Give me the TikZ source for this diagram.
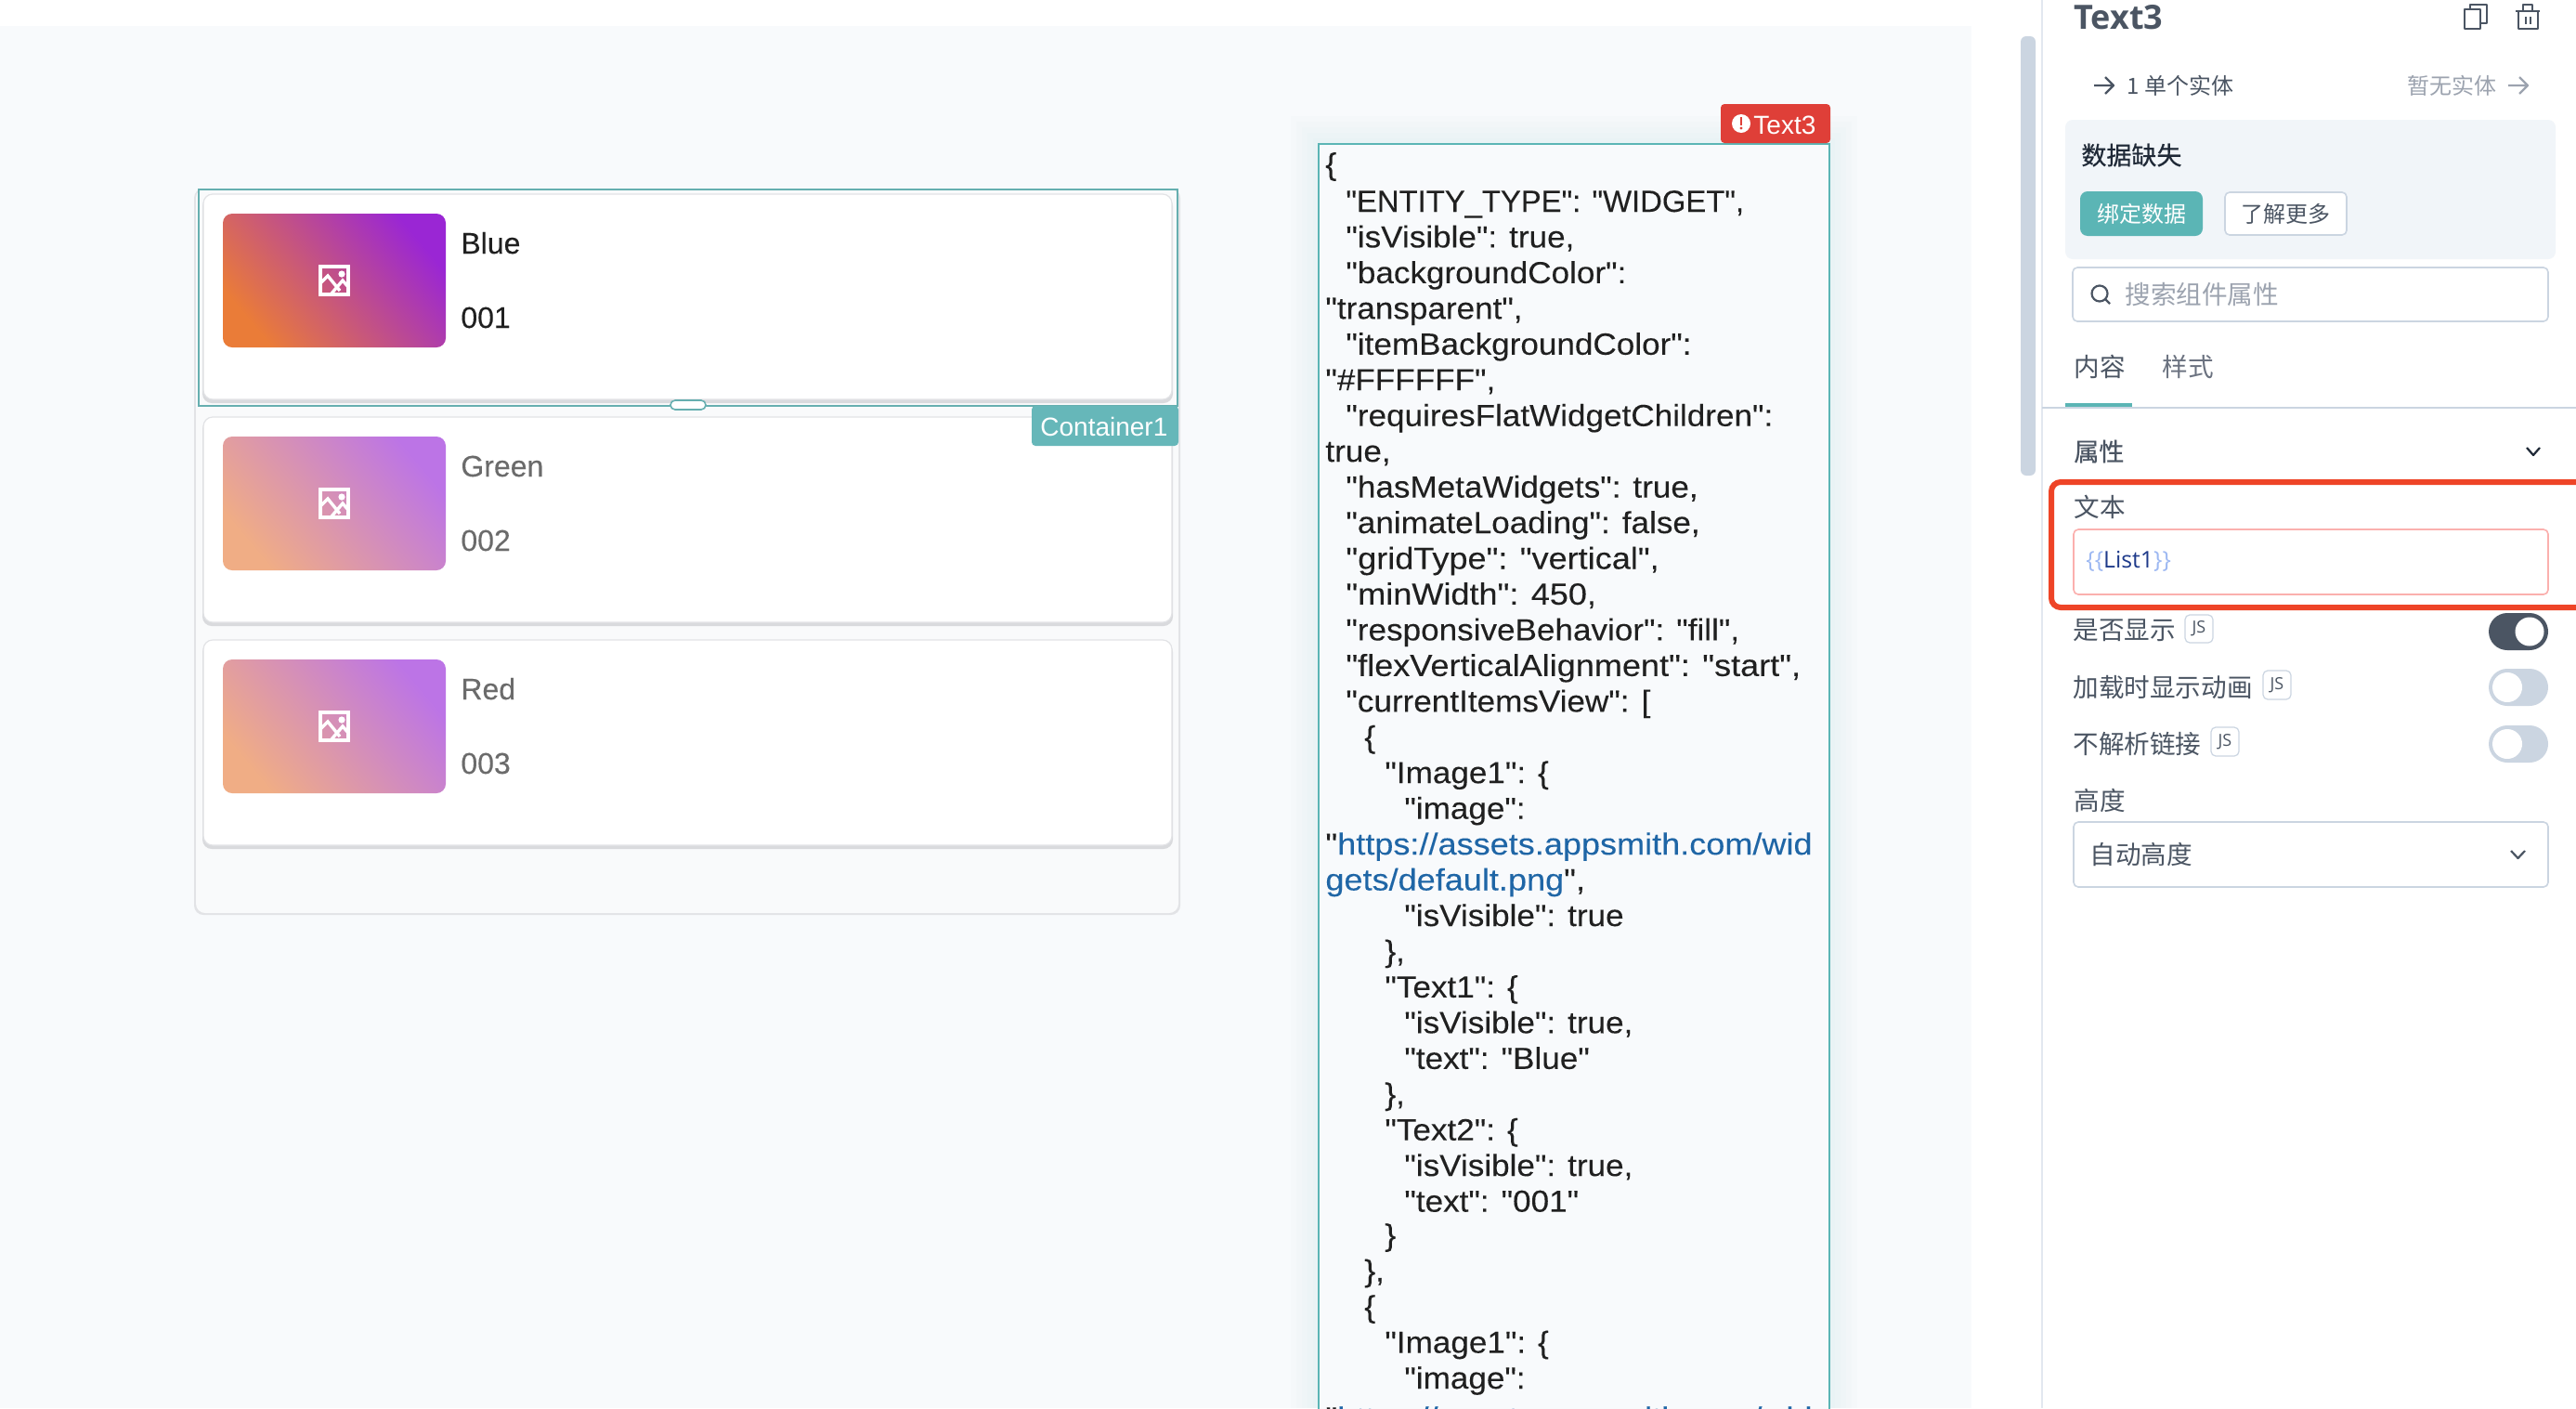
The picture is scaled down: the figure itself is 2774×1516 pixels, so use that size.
\documentclass[tikz,border=0pt]{standalone}
\usepackage{fontspec}
\setmainfont{Liberation Sans}
\newfontfamily\jsonfont[FakeStretch=1.07,FakeBold=.1]{Liberation Sans}
\newfontfamily\jsonplain[FakeBold=.1]{Liberation Sans}
\newfontfamily\jsonwide[FakeStretch=1.1,FakeBold=.1]{Liberation Sans}
\newfontfamily\panelfont{Open Sans}
\newfontfamily\cjkfont{Noto Sans CJK SC}
\definecolor{canvasbg}{HTML}{F8FAFC}
\definecolor{listbg}{HTML}{F9FAFB}
\definecolor{edgegray}{HTML}{E2E3E6}
\definecolor{cardshade}{HTML}{D9DADD}
\definecolor{selteal}{HTML}{66AFB0}
\definecolor{tagteal}{HTML}{66B7B9}
\definecolor{btnteal}{HTML}{5BB5B5}
\definecolor{errred}{HTML}{DF3F38}
\definecolor{markred}{HTML}{EE4427}
\definecolor{inkdark}{HTML}{202020}
\definecolor{inkdim}{HTML}{6B6B6B}
\definecolor{linkblue}{HTML}{1F66A6}
\definecolor{slate}{HTML}{4B5563}
\definecolor{slatedark}{HTML}{1F2937}
\definecolor{slatemid}{HTML}{6B7280}
\definecolor{slatelight}{HTML}{9CA3AF}
\definecolor{rulegray}{HTML}{CBD5E1}
\definecolor{dividergray}{HTML}{E2E8F0}
\definecolor{notebg}{HTML}{F1F5F9}
\definecolor{errpink}{HTML}{FBB0AE}
\definecolor{bracelight}{HTML}{9DB8F2}
\definecolor{listnavy}{HTML}{1E3A8A}
\definecolor{gradlow}{HTML}{EA7C38}
\definecolor{gradmid}{HTML}{D4507E}
\definecolor{gradtop}{HTML}{9A26D4}
\definecolor{fadelow}{HTML}{F0AD85}
\definecolor{fademid}{HTML}{E690A8}
\definecolor{fadetop}{HTML}{BC74E6}
\tikzset{
  cardbox/.style={fill=white,draw=edgegray,line width=.6pt,rounded corners=5pt},
  cardshadow/.style={fill=cardshade,rounded corners=5pt},
  imgfull/.style={rounded corners=5pt,bottom color=gradlow,middle color=gradmid,top color=gradtop,shading angle=-50},
  imgdim/.style={rounded corners=5pt,bottom color=fadelow,middle color=fademid,top color=fadetop,shading angle=-50},
  cardtext/.style={anchor=base west,inner sep=0pt,font=\addfontfeatures{FakeBold=.12}\fontsize{16pt}{19pt}\selectfont},
  jsonline/.style={anchor=base west,inner sep=0pt,text=inkdark,font=\jsonfont\fontsize{16.4pt}{19pt}\selectfont},
  jsonfit/.style={jsonline,font=\jsonplain\fontsize{16.4pt}{19pt}\selectfont},
  jsonlink/.style={jsonline,font=\jsonwide\fontsize{16.4pt}{19pt}\selectfont},
  cjklabel/.style={anchor=west,inner sep=0pt,text=slate,font=\cjkfont\fontsize{13.8pt}{16pt}\selectfont},
  cjkstrong/.style={cjklabel,font=\cjkfont\addfontfeatures{FakeBold=.5}\fontsize{13.5pt}{16pt}\selectfont},
  jsbadge/.style={draw=rulegray,line width=.6pt,rounded corners=2.5pt},
  jstext/.style={inner sep=0pt,text=slate,font=\panelfont\fontsize{9pt}{10pt}\selectfont},
  inputbox/.style={fill=white,draw=rulegray,line width=.8pt,rounded corners=2.5pt},
  iconline/.style={draw=slate,line width=1.1pt,line join=round},
  toggleoff/.style={fill=rulegray,rounded corners=10pt},
  toggleon/.style={fill=slate,rounded corners=10pt},
  imgicon/.pic={
    \draw[white,line width=1.7pt] (-15,-15) rectangle (15,15);
    \fill[white] (8,-7) circle (3.6);
    \draw[white,line width=1.7pt,line join=miter] (-15,3) -- (-7,-5) -- (6,11);
    \draw[white,line width=1.7pt,line join=miter] (-3,14) -- (9,0) -- (15,7);
  }
}
\begin{document}
\begin{tikzpicture}[x=.5pt,y=-.5pt]
  \useasboundingbox (0,0) rectangle (2774,1516);
  % canvas and side panel
  \fill[white] (0,0) rectangle (2774,1516);
  \fill[canvasbg] (0,28) rectangle (2123,1516);
  \fill[dividergray] (2198,0) rectangle (2200,1516);
  \fill[rulegray,rounded corners=3pt] (2176,39) rectangle (2192,512);

  % list widget
  \fill[edgegray,rounded corners=5pt] (209,203) rectangle (1271,985);
  \fill[listbg,rounded corners=5pt] (211,203) rectangle (1269,983);

  % first card, selected
  \fill[cardshadow] (218,212) rectangle (1263,434);
  \filldraw[cardbox] (219,209) rectangle (1262,430);
  \shade[imgfull] (240,230) rectangle (480,374);
  \pic at (360,302) {imgicon};
  \node[cardtext,text=inkdark] (blue) at (496,273) {Blue};
  \node[cardtext,text=inkdark] (no1) at (496,353) {001};
  \draw[selteal,line width=1pt] (214,204) rectangle (1268,437);
  \filldraw[fill=white,draw=selteal,line width=.8pt,rounded corners=2.5pt] (722,431) rectangle (760,441);
  % second card
  \fill[cardshadow] (218,452) rectangle (1263,674);
  \filldraw[cardbox] (219,449) rectangle (1262,670);
  \shade[imgdim] (240,470) rectangle (480,614);
  \pic at (360,542) {imgicon};
  \node[cardtext,text=inkdim] (green) at (496,513) {Green};
  \node[cardtext,text=inkdim] (no2) at (496,593) {002};
  \fill[tagteal,rounded corners=2pt] (1111,437) rectangle (1269,480);
  \node[anchor=base west,inner sep=0pt,text=white,font=\fontsize{14pt}{16pt}\selectfont] (containertag) at (1120,469) {Container1};
  % third card
  \fill[cardshadow] (218,692) rectangle (1263,914);
  \filldraw[cardbox] (219,689) rectangle (1262,910);
  \shade[imgdim] (240,710) rectangle (480,854);
  \pic at (360,782) {imgicon};
  \node[cardtext,text=inkdim] (red) at (496,753) {Red};
  \node[cardtext,text=inkdim] (no3) at (496,833) {003};

  % text widget
  \fill[tagteal,opacity=.015] (1390,125) rectangle (2000,1516);
  \fill[tagteal,opacity=.015] (1396,131) rectangle (1994,1516);
  \fill[tagteal,opacity=.015] (1402,137) rectangle (1988,1516);
  \fill[tagteal,opacity=.015] (1408,143) rectangle (1982,1516);
  \fill[tagteal,opacity=.015] (1414,149) rectangle (1976,1516);
  \filldraw[fill=canvasbg,draw=btnteal,line width=1.1pt] (1420,155) rectangle (1970,1530);
  \fill[errred,rounded corners=2pt] (1853,112) rectangle (1971,154);
  \fill[white] (1875,133) circle (10);
  \fill[errred] (1873.6,126) rectangle (1876.4,135);
  \fill[errred] (1875,138) circle (1.7);
  \node[anchor=base west,inner sep=0pt,text=white,font=\fontsize{14pt}{16pt}\selectfont] (errtag) at (1888,144) {Text3};

  \node[jsonline] (json0) at (1427,188) {\{};
  \node[jsonfit] (json1) at (1449,228) {"ENTITY\_TYPE": "WIDGET",};
  \node[jsonline] (json2) at (1449,266.4) {"isVisible": true,};
  \node[jsonline] (json3) at (1449,304.9) {"backgroundColor":};
  \node[jsonline] (json4) at (1427,343.3) {"transparent",};
  \node[jsonline] (json5) at (1449,381.8) {"itemBackgroundColor":};
  \node[jsonline] (json6) at (1427,420.2) {"\#FFFFFF",};
  \node[jsonline] (json7) at (1449,458.7) {"requiresFlatWidgetChildren":};
  \node[jsonline] (json8) at (1427,497.1) {true,};
  \node[jsonline] (json9) at (1449,535.6) {"hasMetaWidgets": true,};
  \node[jsonline] (json10) at (1449,574) {"animateLoading": false,};
  \node[jsonlink] (json11) at (1449,612.5) {"gridType": "vertical",};
  \node[jsonlink] (json12) at (1449,650.9) {"minWidth": 450,};
  \node[jsonline] (json13) at (1449,689.4) {"responsiveBehavior": "fill",};
  \node[jsonlink] (json14) at (1449,727.8) {"flexVerticalAlignment": "start",};
  \node[jsonline] (json15) at (1449,766.3) {"currentItemsView": [};
  \node[jsonline] (json16) at (1469,804.7) {\{};
  \node[jsonline] (json17) at (1491,843.2) {"Image1": \{};
  \node[jsonline] (json18) at (1512,881.6) {"image":};
  \node[jsonlink] (json19) at (1427,920.1) {"\textcolor{linkblue}{https://assets.appsmith.com/wid}};
  \node[jsonlink] (json20) at (1427,958.5) {\textcolor{linkblue}{gets/default.png}",};
  \node[jsonline] (json21) at (1512,997) {"isVisible": true};
  \node[jsonline] (json22) at (1491,1035.4) {\},};
  \node[jsonline] (json23) at (1491,1073.9) {"Text1": \{};
  \node[jsonline] (json24) at (1512,1112.3) {"isVisible": true,};
  \node[jsonline] (json25) at (1512,1150.8) {"text": "Blue"};
  \node[jsonline] (json26) at (1491,1189.2) {\},};
  \node[jsonline] (json27) at (1491,1227.7) {"Text2": \{};
  \node[jsonline] (json28) at (1512,1266.1) {"isVisible": true,};
  \node[jsonline] (json29) at (1512,1304.6) {"text": "001"};
  \node[jsonline] (json30) at (1491,1341) {\}};
  \node[jsonline] (json31) at (1469,1379.5) {\},};
  \node[jsonline] (json32) at (1469,1418) {\{};
  \node[jsonline] (json33) at (1491,1456.5) {"Image1": \{};
  \node[jsonline] (json34) at (1512,1495) {"image":};
  \node[jsonlink] (json35) at (1427,1538) {"\textcolor{linkblue}{https://assets.appsmith.com/wid}};

  % panel head
  \node[anchor=base west,inner sep=0pt,text=slate,font=\panelfont\bfseries\fontsize{18pt}{20pt}\selectfont] (title) at (2233,31) {Text3};
  \draw[iconline] (2654,10) rectangle (2671,31);
  \draw[iconline] (2660,10) -- (2660,5) -- (2678,5) -- (2678,25) -- (2671,25);
  \draw[iconline] (2709,12) -- (2735,12);
  \draw[iconline] (2712,12) -- (2712,31) -- (2733,31) -- (2733,12);
  \draw[iconline] (2717,12) -- (2717,5) -- (2727,5) -- (2727,12);
  \draw[iconline] (2720,18) -- (2720,26) (2725,18) -- (2725,26);
  \draw[iconline] (2255,92) -- (2276,92) (2267,83) -- (2276,92) -- (2267,101);
  \node[cjklabel,font=\cjkfont\fontsize{12pt}{14pt}\selectfont] (oneentity) at (2290,92) {1 单个实体};
  \node[cjklabel,text=slatelight,font=\cjkfont\fontsize{12pt}{14pt}\selectfont] (noentity) at (2592,92) {暂无实体};
  \draw[iconline,draw=slatelight] (2701,92) -- (2722,92) (2713,83) -- (2722,92) -- (2713,101);

  % missing data note
  \fill[notebg,rounded corners=4pt] (2224,129) rectangle (2752,279);
  \node[cjkstrong,text=slatedark] (missing) at (2241,167) {数据缺失};
  \fill[btnteal,rounded corners=4pt] (2240,206) rectangle (2372,254);
  \node[inner sep=0pt,text=white,font=\cjkfont\fontsize{12pt}{14pt}\selectfont] (bindbtn) at (2306,230) {绑定数据};
  \filldraw[inputbox] (2396,207) rectangle (2527,253);
  \node[inner sep=0pt,text=slate,font=\cjkfont\fontsize{12pt}{14pt}\selectfont] (morebtn) at (2461.5,230) {了解更多};

  % search box and tabs
  \filldraw[inputbox] (2232,288) rectangle (2744,346);
  \draw[iconline] (2261,316) circle (8.5);
  \draw[iconline] (2267,322) -- (2272,327);
  \node[cjklabel,text=slatelight] (searchhint) at (2288,317) {搜索组件属性};
  \node[cjklabel] (tabcontent) at (2233,395) {内容};
  \node[cjklabel,text=slatemid] (tabstyle) at (2328,395) {样式};
  \fill[rulegray] (2199,438) rectangle (2774,440);
  \fill[btnteal] (2224,434) rectangle (2296,438);

  % properties
  \node[cjkstrong] (props) at (2233,486) {属性};
  \draw[iconline,draw=slatedark] (2721,482) -- (2728,490) -- (2735,482);
  \node[cjklabel] (textlabel) at (2233,546) {文本};
  \filldraw[inputbox,draw=errpink] (2233,570) rectangle (2744,640);
  \node[anchor=west,inner sep=0pt,text=listnavy,font=\panelfont\fontsize{12.4pt}{15pt}\selectfont] (binding) at (2246,604) {\textcolor{bracelight}{\{\{}List1\textcolor{bracelight}{\}\}}};
  \draw[markred,line width=3pt,rounded corners=5pt] (2209,519) rectangle (2790,654);

  \node[cjklabel] (visible) at (2232,679) {是否显示};
  \draw[jsbadge] (2353,662) rectangle (2383,692);
  \node[jstext] (js1) at (2368,677) {JS};
  \fill[toggleon] (2680,660) rectangle (2744,700);
  \fill[white] (2724,680) circle (15.5);

  \node[cjklabel] (animate) at (2232,740) {加载时显示动画};
  \draw[jsbadge] (2437,722) rectangle (2467,753);
  \node[jstext] (js2) at (2452,737.5) {JS};
  \fill[toggleoff] (2680,720) rectangle (2744,760);
  \fill[white] (2700,740) circle (16);

  \node[cjklabel] (nolinks) at (2232,801) {不解析链接};
  \draw[jsbadge] (2381,783) rectangle (2411,814);
  \node[jstext] (js3) at (2396,798.5) {JS};
  \fill[toggleoff] (2680,781) rectangle (2744,821);
  \fill[white] (2700,801) circle (16);

  \node[cjklabel] (heightlabel) at (2233,862) {高度};
  \filldraw[inputbox] (2233,885) rectangle (2744,955);
  \node[cjklabel] (autoheight) at (2250,920) {自动高度};
  \draw[iconline] (2704,916) -- (2711.5,924) -- (2719,916);
\end{tikzpicture}
\end{document}
